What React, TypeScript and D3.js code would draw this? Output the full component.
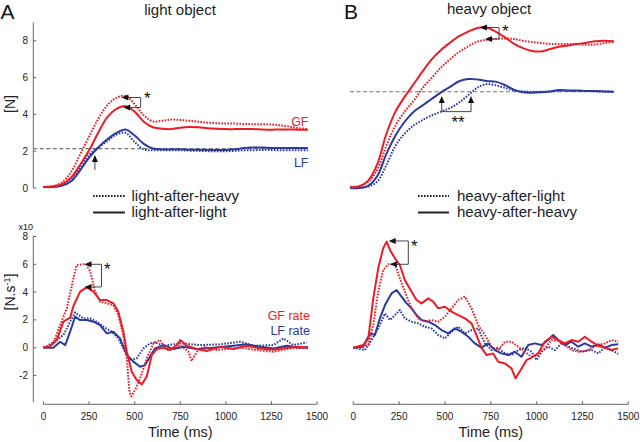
import React from "react";
import * as d3 from "d3";

// ---------- data ----------
const FORCE_TIME = [0,50,100,150,200,250,300,350,400,450,500,550,600,650,700,750,800,850,900,950,1000,1050,1100,1150,1200,1250,1300,1350,1400,1450];

// Panel A (light object), force [N]
const lightGF_afterLight = [0.05,0.08,0.2,0.55,1.25,2.05,3.0,3.85,4.3,4.45,4.15,3.6,3.3,3.22,3.2,3.28,3.32,3.3,3.25,3.22,3.2,3.2,3.2,3.2,3.18,3.17,3.18,3.18,3.17,3.17];
const lightGF_afterHeavy = [0.07,0.1,0.3,0.85,1.8,2.8,3.75,4.5,4.9,5.0,4.55,3.95,3.62,3.65,3.72,3.7,3.65,3.6,3.55,3.52,3.5,3.5,3.48,3.47,3.47,3.45,3.4,3.33,3.25,3.2];
const lightLF_afterLight = [0.05,0.05,0.12,0.35,0.95,1.65,2.2,2.65,3.0,3.18,2.85,2.4,2.15,2.1,2.1,2.1,2.08,2.08,2.07,2.07,2.07,2.1,2.17,2.2,2.2,2.18,2.18,2.18,2.18,2.18];
const lightLF_afterHeavy = [0.05,0.07,0.18,0.5,1.1,1.8,2.2,2.55,2.9,3.0,2.5,2.1,2.05,2.05,2.05,2.05,2.03,2.02,2.0,2.0,2.0,2.02,2.05,2.05,2.07,2.07,2.05,2.05,2.05,2.05];

// Panel B (heavy object), force [N]
const heavyGF_afterHeavy = [0.05,0.08,0.4,1.3,2.95,4.15,4.95,5.65,6.35,7.0,7.5,7.9,8.25,8.5,8.7,8.72,8.5,8.2,7.85,7.6,7.45,7.42,7.55,7.68,7.75,7.82,7.9,7.98,8.0,7.97];
const heavyGF_afterLight = [0.07,0.1,0.35,1.0,2.3,3.4,4.15,4.75,5.45,6.0,6.55,7.0,7.4,7.7,7.95,8.05,8.1,8.12,8.1,8.0,7.93,7.88,7.83,7.82,7.83,7.82,7.78,7.8,7.88,7.93];
const heavyLF_afterHeavy = [0.0,0.0,0.12,0.65,1.85,2.85,3.6,4.15,4.5,4.85,5.2,5.5,5.8,5.92,5.9,5.82,5.78,5.6,5.35,5.2,5.18,5.2,5.25,5.33,5.3,5.3,5.27,5.27,5.25,5.23];
const heavyLF_afterLight = [0.0,0.0,0.08,0.35,1.25,2.3,2.95,3.4,3.7,3.95,4.15,4.35,4.65,5.05,5.45,5.65,5.58,5.45,5.3,5.25,5.23,5.23,5.25,5.28,5.28,5.27,5.27,5.25,5.23,5.23];

const LIGHT_LF_THRESHOLD = 2.14;
const HEAVY_LF_THRESHOLD = 5.23;

// Rates [N.s-1 x10], [time ms, value]
const lightGFrate_afterLight: [number, number][] = [[0,0],[36,0.1],[73,0.55],[109,1.87],[146,2.16],[164,3.0],[201,4.03],[237,4.34],[274,4.03],[310,3.43],[347,3.43],[383,3.19],[410,2.6],[438,1.15],[457,-0.29],[484,-1.73],[511,-2.33],[539,-2.64],[566,-2.09],[594,-0.53],[621,-0.1],[658,0],[694,-0.17],[731,0.19],[750,0.55],[786,0.15],[841,-0.1],[895,-0.24],[969,0.07],[1042,-0.1],[1115,0.14],[1188,-0.05],[1261,-0.15],[1334,0],[1407,0.07],[1450,-0.05]];
const lightGFrate_afterHeavy: [number, number][] = [[0,0],[54,0.31],[91,1.63],[128,2.83],[164,4.99],[182,5.95],[219,6.0],[237,5.95],[256,5.47],[283,4.03],[310,3.31],[347,3.19],[383,3.07],[410,2.35],[438,0.91],[457,-0.77],[472,-3.2],[482,-3.5],[502,-3.05],[530,-2.2],[566,-0.77],[603,0.31],[640,0.55],[676,-0.17],[713,-0.05],[750,0.19],[795,-0.29],[812,-0.96],[841,-0.29],[877,0.07],[950,-0.17],[1078,0],[1170,-0.17],[1261,-0.29],[1352,-0.05],[1450,0]];
const lightLFrate_afterLight: [number, number][] = [[0,0],[54,0],[91,0.43],[119,0.19],[146,1.15],[173,2.23],[201,1.99],[237,1.99],[274,1.87],[310,1.63],[347,1.03],[383,1.15],[420,0.67],[457,-0.53],[493,-1.0],[530,-1.37],[557,-1.25],[584,-0.65],[612,-0.05],[658,0.19],[713,-0.1],[768,0.07],[841,-0.1],[932,0],[1042,0.14],[1115,0.24],[1188,0.07],[1261,-0.05],[1334,0.14],[1407,0],[1450,0.05]];
const lightLFrate_afterHeavy: [number, number][] = [[0,0],[54,0.38],[109,0.91],[146,1.87],[173,2.54],[219,2.1],[256,2.1],[292,1.87],[329,1.51],[374,1.15],[410,0.67],[447,-0.29],[475,-0.89],[511,-0.77],[548,-0.05],[584,0.31],[612,0.38],[658,0.14],[750,0.31],[859,0.19],[969,0.24],[1078,0.43],[1151,0.14],[1261,0.19],[1316,0.67],[1370,0.19],[1443,0.38]];

const heavyGFrate_afterHeavy: [number, number][] = [[0,0],[54,0.19],[82,0.67],[109,3.55],[136,5.71],[163,7.15],[182,7.63],[200,7.03],[227,6.43],[254,5.95],[281,4.87],[318,4.03],[345,3.43],[372,3.19],[409,3.55],[436,3.31],[463,2.83],[500,2.95],[536,2.59],[572,2.35],[609,2.11],[645,1.75],[672,0.91],[699,0],[727,-0.53],[763,-0.41],[790,-1.01],[827,-1.13],[863,-1.49],[885,-2.2],[918,-1.49],[945,-0.89],[972,-0.72],[1008,-0.41],[1045,0.43],[1081,0.79],[1118,0.55],[1154,0.31],[1190,0.55],[1227,0.43],[1263,0.79],[1300,0.43],[1336,0.14],[1372,0],[1409,-0.17],[1445,-0.05]];
const heavyGFrate_afterLight: [number, number][] = [[0,0],[82,0.19],[109,1.63],[136,4.03],[163,5.59],[191,6.0],[227,6.0],[254,4.99],[281,4.03],[318,2.83],[354,2.11],[390,1.87],[427,1.99],[463,1.87],[500,2.23],[536,2.83],[572,3.43],[609,3.67],[645,2.83],[681,1.63],[718,0.91],[754,0.07],[790,-0.17],[827,0.43],[863,0.43],[900,0.07],[936,-0.29],[972,-0.65],[1008,-0.53],[1045,-0.05],[1081,0.55],[1118,0.48],[1154,0.19],[1190,-0.17],[1227,-0.29],[1263,-0.24],[1300,-0.05],[1336,0.19],[1372,0.31],[1409,0.55],[1445,0.43]];
const heavyLFrate_afterHeavy: [number, number][] = [[0,0],[54,0.07],[91,1.03],[118,0.91],[145,2.11],[173,3.07],[209,3.91],[236,4.15],[263,3.67],[291,3.19],[318,2.83],[345,2.35],[372,1.99],[409,1.87],[445,1.63],[481,1.27],[518,1.03],[554,1.39],[590,1.15],[627,0.79],[663,0.31],[699,0],[736,0.31],[772,-0.17],[808,-0.41],[845,-0.53],[881,-0.29],[918,-0.65],[954,0.19],[990,0.31],[1027,0.19],[1063,0.55],[1090,0.91],[1118,0.55],[1154,0.19],[1190,0.43],[1227,0.07],[1263,0.31],[1300,0.07],[1336,0.24],[1372,0],[1409,0.19],[1445,0.24]];
const heavyLFrate_afterLight: [number, number][] = [[0,0],[63,-0.17],[100,0.55],[136,1.39],[173,2.47],[200,1.99],[227,2.35],[254,2.71],[281,2.11],[318,1.87],[354,1.75],[390,1.51],[427,1.39],[463,0.91],[500,0.67],[536,1.15],[572,1.51],[609,1.03],[645,1.27],[681,1.39],[718,0.31],[754,-0.17],[790,0],[827,-0.41],[863,-0.53],[900,-0.17],[936,0],[972,-0.29],[1000,-0.89],[1027,-0.29],[1063,0.07],[1100,-0.17],[1136,0.31],[1190,0],[1245,-0.29],[1300,-0.17],[1336,-0.41],[1372,0],[1409,-0.17],[1445,-0.45]];

const FORCE_TICKS = [0, 2, 4, 6, 8];
const RATE_TICKS = [-2, 0, 2, 4, 6, 8];
const TIME_TICKS = [0, 250, 500, 750, 1000, 1250, 1500];

// ---------- style ----------
const RED = "#ec1c24";
const BLUE = "#2b3a9f";
const AXIS = "#666";
const TXT = "#222";
const FONT = "Liberation Sans, Arial, sans-serif";
const DOT = "1.6 1.4";

// ---------- scales ----------
const xLeft = d3.scaleLinear().domain([0, 1500]).range([43.5, 317]);
const xTopRight = d3.scaleLinear().domain([0, 1500]).range([350, 623]);
const xBotRight = d3.scaleLinear().domain([0, 1500]).range([353.3, 628.3]);
const yForce = d3.scaleLinear().domain([0, 9]).range([188, 22.4]);
const yRate = d3.scaleLinear().domain([-4, 8]).range([403.3, 236.5]);

function forcePath(vals: number[], x: d3.ScaleLinear<number, number>) {
  const g = d3.line<number>().x((_, i) => x(FORCE_TIME[i])).y((v) => yForce(v)).curve(d3.curveCatmullRom);
  return g(vals) || "";
}
function ratePath(pts: [number, number][], x: d3.ScaleLinear<number, number>) {
  const g = d3.line<[number, number]>().x((d) => x(d[0])).y((d) => yRate(d[1])).curve(d3.curveLinear);
  return g(pts) || "";
}

function LeftArrow({ x, y, x2 }: { x: number; y: number; x2: number }) {
  return (
    <g>
      <line x1={x + 6} y1={y} x2={x2} y2={y} stroke="#444" strokeWidth={1} />
      <path d={`M${x},${y} L${x + 7},${y - 3} L${x + 7},${y + 3} Z`} fill="#111" />
    </g>
  );
}
function UpArrow({ x, y, y2 }: { x: number; y: number; y2: number }) {
  return (
    <g>
      <line x1={x} y1={y + 6} x2={x} y2={y2} stroke="#444" strokeWidth={1} />
      <path d={`M${x},${y} L${x - 3},${y + 7} L${x + 3},${y + 7} Z`} fill="#111" />
    </g>
  );
}

function Bracket({ xs, ya, yb, tipA, tipB, scaleX, scaleY }: any) {
  const bx = scaleX(xs);
  const y1 = scaleY(ya[1]);
  const y2 = scaleY(yb[1]);
  return (
    <g>
      <LeftArrow x={scaleX(tipA)} y={y1} x2={bx} />
      <LeftArrow x={scaleX(tipB)} y={y2} x2={bx} />
      <line x1={bx} y1={y1} x2={bx} y2={y2} stroke="#444" strokeWidth={1} />
    </g>
  );
}

export default function App() {
  const yAxisForce = (
    <g>
      <line x1={33.3} x2={33.3} y1={yForce(9)} y2={yForce(0)} stroke={AXIS} strokeWidth={1} />
      {FORCE_TICKS.map((t) => (
        <g key={t}>
          <line x1={33.3} x2={36.3} y1={yForce(t)} y2={yForce(t)} stroke={AXIS} />
          <text x={28} y={yForce(t) + 3.5} fontSize={10} textAnchor="end" fill={TXT} fontFamily={FONT}>{t}</text>
        </g>
      ))}
    </g>
  );
  const yAxisRate = (
    <g>
      <line x1={33.3} x2={33.3} y1={yRate(8)} y2={yRate(-3.9)} stroke={AXIS} strokeWidth={1} />
      {RATE_TICKS.map((t) => (
        <g key={t}>
          <line x1={33.3} x2={36.3} y1={yRate(t)} y2={yRate(t)} stroke={AXIS} />
          <text x={28} y={yRate(t) + 3.5} fontSize={10} textAnchor="end" fill={TXT} fontFamily={FONT}>{t}</text>
        </g>
      ))}
      <text x={33} y={230} fontSize={9} textAnchor="end" fill={TXT} fontFamily={FONT}>x10</text>
    </g>
  );
  const xAxis = (x: d3.ScaleLinear<number, number>, label: string) => (
    <g>
      <line x1={x(0)} x2={x(1500)} y1={404.3} y2={404.3} stroke={AXIS} />
      {TIME_TICKS.map((t) => (
        <g key={t}>
          <line x1={x(t)} x2={x(t)} y1={404.3} y2={401.3} stroke={AXIS} />
          <text x={x(t)} y={420} fontSize={10} textAnchor="middle" fill={TXT} fontFamily={FONT}>{t}</text>
        </g>
      ))}
      <text x={(x(0) + x(1500)) / 2} y={437} fontSize={14.5} textAnchor="middle" fill={TXT} fontFamily={FONT}>{label}</text>
    </g>
  );

  return (
    <svg width={640} height={442} style={{ position: "absolute", left: 0, top: 0, background: "#fff" }} fontFamily={FONT}>
      <rect x={0} y={0} width={640} height={442} fill="#fff" />
      {/* Panel letters and titles */}
      <text x={0.5} y={18.5} fontSize={21} fill="#111">A</text>
      <text x={344} y={18.5} fontSize={21} fill="#111">B</text>
      <text x={180} y={14.5} fontSize={15} textAnchor="middle" fill={TXT}>light object</text>
      <text x={489} y={14} fontSize={15} textAnchor="middle" fill={TXT}>heavy object</text>

      {/* Y labels */}
      <text transform="translate(15,104) rotate(-90)" fontSize={14} textAnchor="middle" fill={TXT}>[N]</text>
      <text transform="translate(15,292) rotate(-90)" fontSize={14} textAnchor="middle" fill={TXT}>
        [N.s<tspan dy={-5} fontSize={9}>-1</tspan><tspan dy={5}>]</tspan>
      </text>

      {yAxisForce}
      {yAxisRate}
      {xAxis(xLeft, "Time (ms)")}
      {xAxis(xBotRight, "Time (ms)")}

      {/* thresholds */}
      <line x1={33.3} x2={xLeft(1450)} y1={yForce(LIGHT_LF_THRESHOLD)} y2={yForce(LIGHT_LF_THRESHOLD)} stroke="#777" strokeWidth={1.1} strokeDasharray="4 2.5" />
      <line x1={xTopRight(0)} x2={xTopRight(1450)} y1={yForce(HEAVY_LF_THRESHOLD)} y2={yForce(HEAVY_LF_THRESHOLD)} stroke="#777" strokeWidth={1.1} strokeDasharray="4 2.5" />

      {/* Panel A force */}
      <g fill="none" strokeWidth={2}>
        <path d={forcePath(lightLF_afterHeavy, xLeft)} stroke={BLUE} strokeDasharray={DOT} />
        <path d={forcePath(lightLF_afterLight, xLeft)} stroke={BLUE} />
        <path d={forcePath(lightGF_afterHeavy, xLeft)} stroke={RED} strokeDasharray={DOT} />
        <path d={forcePath(lightGF_afterLight, xLeft)} stroke={RED} />
      </g>
      {/* Panel B force */}
      <g fill="none" strokeWidth={2}>
        <path d={forcePath(heavyLF_afterLight, xTopRight)} stroke={BLUE} strokeDasharray={DOT} />
        <path d={forcePath(heavyLF_afterHeavy, xTopRight)} stroke={BLUE} />
        <path d={forcePath(heavyGF_afterLight, xTopRight)} stroke={RED} strokeDasharray={DOT} />
        <path d={forcePath(heavyGF_afterHeavy, xTopRight)} stroke={RED} />
      </g>
      {/* Panel A rate */}
      <g fill="none" strokeWidth={2} strokeLinejoin="round">
        <path d={ratePath(lightLFrate_afterHeavy, xLeft)} stroke={BLUE} strokeDasharray={DOT} />
        <path d={ratePath(lightLFrate_afterLight, xLeft)} stroke={BLUE} />
        <path d={ratePath(lightGFrate_afterHeavy, xLeft)} stroke={RED} strokeDasharray={DOT} />
        <path d={ratePath(lightGFrate_afterLight, xLeft)} stroke={RED} />
      </g>
      {/* Panel B rate */}
      <g fill="none" strokeWidth={2} strokeLinejoin="round">
        <path d={ratePath(heavyLFrate_afterLight, xBotRight)} stroke={BLUE} strokeDasharray={DOT} />
        <path d={ratePath(heavyLFrate_afterHeavy, xBotRight)} stroke={BLUE} />
        <path d={ratePath(heavyGFrate_afterLight, xBotRight)} stroke={RED} strokeDasharray={DOT} />
        <path d={ratePath(heavyGFrate_afterHeavy, xBotRight)} stroke={RED} />
      </g>

      {/* Series labels */}
      <text x={308.5} y={126} fontSize={12.5} textAnchor="end" fill={RED}>GF</text>
      <text x={308.5} y={167} fontSize={12.5} textAnchor="end" fill={BLUE}>LF</text>
      <text x={310} y={320} fontSize={12.5} textAnchor="end" fill={RED}>GF rate</text>
      <text x={310} y={335} fontSize={12.5} textAnchor="end" fill={BLUE}>LF rate</text>

      {/* Annotations */}
      <Bracket xs={533} ya={[0, 4.92]} yb={[0, 4.38]} tipA={427} tipB={437} scaleX={xLeft} scaleY={yForce} />
      <text x={144} y={104} fontSize={17} fill="#111">*</text>
      <UpArrow x={xLeft(282)} y={yForce(1.8)} y2={yForce(0.98)} />

      <Bracket xs={819} ya={[0, 8.72]} yb={[0, 8.1]} tipA={714} tipB={742} scaleX={xTopRight} scaleY={yForce} />
      <text x={502} y={37} fontSize={17} fill="#111">*</text>
      <UpArrow x={xTopRight(504)} y={yForce(5.0)} y2={yForce(4.15)} />
      <UpArrow x={xTopRight(665)} y={yForce(5.0)} y2={yForce(4.15)} />
      <line x1={xTopRight(504)} x2={xTopRight(665)} y1={yForce(4.15)} y2={yForce(4.15)} stroke="#444" strokeWidth={1} />
      <text x={458} y={128} fontSize={17} textAnchor="middle" fill="#111">**</text>

      <Bracket xs={318} ya={[0, 6.0]} yb={[0, 4.37]} tipA={225} tipB={225} scaleX={xLeft} scaleY={yRate} />
      <text x={104} y={275} fontSize={17} fill="#111">*</text>

      <Bracket xs={300} ya={[0, 7.68]} yb={[0, 6.0]} tipA={193} tipB={200} scaleX={xBotRight} scaleY={yRate} />
      <text x={411} y={252} fontSize={17} fill="#111">*</text>

      {/* Legends */}
      <line x1={93} x2={125} y1={196} y2={196} stroke="#222" strokeWidth={2} strokeDasharray={DOT} />
      <text x={131.5} y={200.5} fontSize={15} fill={TXT}>light-after-heavy</text>
      <line x1={93} x2={125} y1={212.5} y2={212.5} stroke="#222" strokeWidth={2} />
      <text x={131.5} y={217} fontSize={15} fill={TXT}>light-after-light</text>

      <line x1={418} x2={449} y1={196} y2={196} stroke="#222" strokeWidth={2} strokeDasharray={DOT} />
      <text x={457} y={200.5} fontSize={15} fill={TXT}>heavy-after-light</text>
      <line x1={418} x2={449} y1={212.5} y2={212.5} stroke="#222" strokeWidth={2} />
      <text x={457} y={217} fontSize={15} fill={TXT}>heavy-after-heavy</text>
    </svg>
  );
}
